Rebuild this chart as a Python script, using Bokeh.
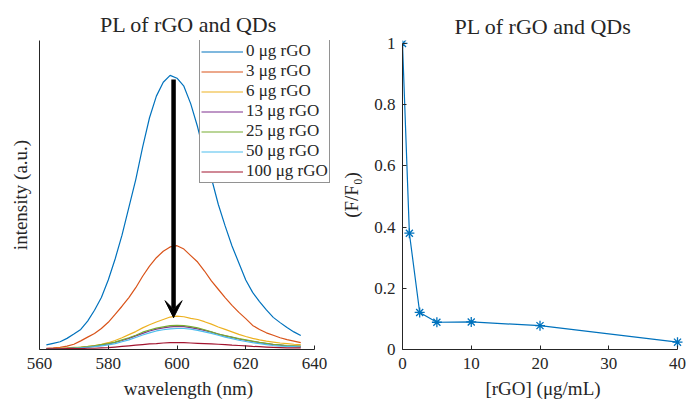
from bokeh.plotting import figure
from bokeh.layouts import row
from bokeh.models import Range1d, FixedTicker, Legend, LegendItem, Arrow, VeeHead
from bokeh.embed import file_html
from bokeh.resources import INLINE

# ---------------- data ----------------
wavelength = [562, 564, 566, 568, 570, 572, 574, 576, 578, 580, 582, 584, 586, 588, 590,
              592, 594, 596, 598, 600, 602, 604, 606, 608, 610, 612, 614, 616, 618, 620,
              622, 624, 626, 628, 630, 632, 634, 636]

pl_0ug = [0.015, 0.020, 0.025, 0.036, 0.050, 0.065, 0.092, 0.127, 0.168, 0.225, 0.293, 0.370,
          0.460, 0.550, 0.655, 0.750, 0.820, 0.865, 0.887, 0.878, 0.852, 0.795, 0.720, 0.630,
          0.555, 0.470, 0.400, 0.335, 0.280, 0.225, 0.185, 0.155, 0.128, 0.104, 0.087, 0.071,
          0.057, 0.045]
pl_3ug = [0.004, 0.005, 0.007, 0.011, 0.017, 0.028, 0.040, 0.052, 0.068, 0.088, 0.114, 0.140,
          0.168, 0.200, 0.237, 0.270, 0.297, 0.318, 0.332, 0.336, 0.325, 0.304, 0.283, 0.254,
          0.222, 0.195, 0.168, 0.143, 0.120, 0.100, 0.078, 0.065, 0.054, 0.046, 0.038, 0.032,
          0.027, 0.022]
pl_6ug = [0.002, 0.003, 0.004, 0.005, 0.007, 0.008, 0.010, 0.013, 0.017, 0.022, 0.029, 0.038,
          0.048, 0.058, 0.070, 0.080, 0.089, 0.097, 0.105, 0.108, 0.106, 0.101, 0.097, 0.090,
          0.082, 0.073, 0.065, 0.057, 0.049, 0.042, 0.036, 0.031, 0.027, 0.024, 0.021, 0.019,
          0.017, 0.016]
pl_13ug = [0.001, 0.002, 0.003, 0.004, 0.005, 0.006, 0.008, 0.011, 0.014, 0.018, 0.023, 0.029,
           0.036, 0.044, 0.052, 0.060, 0.066, 0.070, 0.073, 0.075, 0.074, 0.071, 0.067, 0.062,
           0.056, 0.050, 0.044, 0.039, 0.034, 0.030, 0.026, 0.022, 0.019, 0.016, 0.014, 0.012,
           0.011, 0.010]
pl_25ug = [0.001, 0.002, 0.003, 0.004, 0.005, 0.007, 0.009, 0.012, 0.016, 0.019, 0.024, 0.031,
           0.038, 0.046, 0.056, 0.063, 0.069, 0.073, 0.077, 0.078, 0.077, 0.074, 0.070, 0.064,
           0.057, 0.050, 0.045, 0.040, 0.035, 0.031, 0.027, 0.023, 0.020, 0.017, 0.015, 0.013,
           0.012, 0.011]
pl_50ug = [0.001, 0.001, 0.002, 0.003, 0.004, 0.005, 0.007, 0.009, 0.012, 0.015, 0.019, 0.025,
           0.031, 0.039, 0.047, 0.054, 0.060, 0.064, 0.067, 0.068, 0.068, 0.066, 0.062, 0.057,
           0.052, 0.046, 0.040, 0.035, 0.030, 0.026, 0.022, 0.019, 0.016, 0.013, 0.011, 0.010,
           0.009, 0.008]
pl_100ug = [0.002, 0.002, 0.002, 0.003, 0.003, 0.003, 0.004, 0.004, 0.005, 0.006, 0.008, 0.010,
            0.012, 0.014, 0.016, 0.018, 0.019, 0.021, 0.022, 0.022, 0.022, 0.021, 0.020, 0.019,
            0.018, 0.017, 0.016, 0.014, 0.013, 0.012, 0.010, 0.009, 0.008, 0.007, 0.006, 0.005,
            0.005, 0.005]

series = [pl_0ug, pl_3ug, pl_6ug, pl_13ug, pl_25ug, pl_50ug, pl_100ug]
series_labels = ["0 μg rGO", "3 μg rGO", "6 μg rGO", "13 μg rGO", "25 μg rGO",
                 "50 μg rGO", "100 μg rGO"]
series_colors = ["#0072BD", "#D95319", "#EDB120", "#7E2F8E", "#77AC30", "#4DBEEE", "#A2142F"]

# arrow (quenching direction)
arrow_x = 599
arrow_y_start = 0.874
arrow_y_end = 0.103

rgo_conc = [0, 1, 2.5, 5, 10, 20, 40]
f_ratio = [1.0, 0.38, 0.121, 0.089, 0.090, 0.078, 0.024]

wl_ticks = [560, 580, 600, 620, 640]
conc_ticks = [0, 10, 20, 30, 40]
ratio_ticks = [0, 0.2, 0.4, 0.6, 0.8, 1]

FONT = "Liberation Serif"
AX = "#262626"


def style(p):
    p.outline_line_color = None
    p.xgrid.visible = False
    p.ygrid.visible = False
    p.title.text_font = FONT
    p.title.text_font_size = "22px"
    p.title.text_font_style = "normal"
    p.title.text_color = AX
    p.title.align = "center"
    for ax in (p.xaxis[0], p.yaxis[0]):
        ax.axis_line_color = AX
        ax.axis_line_width = 1
        ax.major_tick_line_color = AX
        ax.major_tick_in = 4
        ax.major_tick_out = 0
        ax.minor_tick_line_color = None
        ax.major_label_text_font = FONT
        ax.major_label_text_font_size = "17px"
        ax.major_label_text_color = AX
        ax.axis_label_text_font = FONT
        ax.axis_label_text_font_size = "19px"
        ax.axis_label_text_font_style = "normal"
        ax.axis_label_text_color = AX


# ---------------- left: spectra ----------------
# frame: 298 px wide at 80 nm per 275 px -> extra room on the right for the legend
p1 = figure(width=337, height=401, x_range=Range1d(560, 560 + 298 * 80 / 275),
            y_range=Range1d(0, 1),
            output_backend="svg", toolbar_location=None, title="PL of rGO and QDs",
            min_border_left=39, min_border_right=0, min_border_top=40, min_border_bottom=51)
style(p1)
p1.title.standoff = 7
p1.xaxis.ticker = FixedTicker(ticks=wl_ticks)
p1.xaxis.bounds = (wl_ticks[0], wl_ticks[-1])
p1.xaxis.axis_label = "wavelength (nm)"
p1.xaxis.major_label_standoff = 8
p1.xaxis.axis_label_standoff = 6
p1.yaxis.ticker = FixedTicker(ticks=[])
p1.yaxis.axis_label = "intensity (a.u.)"
p1.yaxis.axis_label_standoff = 9

items = []
for vals, lab, col in zip(series, series_labels, series_colors):
    r = p1.line(wavelength, vals, line_color=col, line_width=1.2)
    items.append(LegendItem(label=lab, renderers=[r]))

p1.add_layout(Arrow(end=VeeHead(size=17, fill_color="black", line_color="black", line_width=1),
                    x_start=arrow_x, y_start=arrow_y_start, x_end=arrow_x, y_end=arrow_y_end,
                    line_width=4.5, line_color="black"))

legend = Legend(items=items, location=(160, 166), margin=0, padding=1, spacing=0,
                glyph_width=42, glyph_height=19, label_height=20, label_standoff=3,
                label_text_font=FONT, label_text_font_size="17px", label_text_color=AX,
                border_line_color=AX, border_line_width=1, background_fill_alpha=1)
p1.add_layout(legend)

# ---------------- right: quenching ----------------
p2 = figure(width=349, height=401, x_range=Range1d(0, 281 / 6.875),
            y_range=Range1d(0, 1 + 3 / 310),
            output_backend="svg", toolbar_location=None, title="PL of rGO and QDs",
            min_border_left=65, min_border_right=3, min_border_top=37, min_border_bottom=51)
style(p2)
p2.title.standoff = 4
p2.xaxis.ticker = FixedTicker(ticks=conc_ticks)
p2.xaxis.bounds = (conc_ticks[0], conc_ticks[-1])
p2.xaxis.axis_label = "[rGO] (μg/mL)"
p2.xaxis.major_label_standoff = 8
p2.xaxis.axis_label_standoff = 6
p2.yaxis.ticker = FixedTicker(ticks=ratio_ticks)
p2.yaxis.bounds = (ratio_ticks[0], ratio_ticks[-1])
p2.yaxis.major_label_overrides = {0: "0", 1: "1"}
p2.yaxis.major_label_standoff = 7
p2.yaxis.axis_label = "(F/F₀)"
p2.yaxis.axis_label_standoff = 9

p2.line(rgo_conc, f_ratio, line_color="#0072BD", line_width=1.2)
p2.scatter(rgo_conc, f_ratio, marker="asterisk", size=10, line_color="#0072BD", line_width=1.3)

layout = row(p1, p2)
open("out.html", "w").write(file_html(layout, INLINE))
